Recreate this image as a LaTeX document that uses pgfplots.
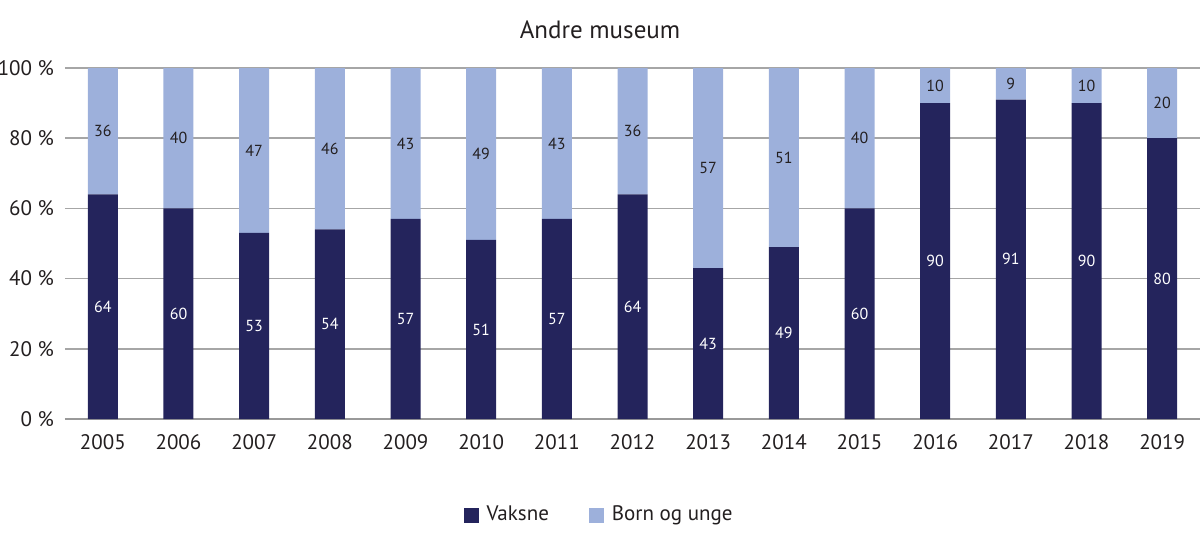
\documentclass[border=0pt]{standalone}
\usepackage{fontspec}
\setmainfont{PT Sans}
\usepackage{pgfplots}
\pgfplotsset{compat=1.18}
\usepackage{pgfplotstable}
\definecolor{dark}{HTML}{24245C}
\definecolor{light}{HTML}{9DB0DB}
\definecolor{txt}{HTML}{231F20}
\pgfplotstableread{
x dark light dc lc
0 64 36 32 82
1 60 40 30 80
2 53 47 26.5 76.5
3 54 46 27 77
4 57 43 28.5 78.5
5 51 49 25.5 75.5
6 57 43 28.5 78.5
7 64 36 32 82
8 43 57 21.5 71.5
9 49 51 24.5 74.5
10 60 40 30 80
11 90 10 45 95
12 91 9 45.5 95.5
13 90 10 45 95
14 80 20 40 90
}\data
\begin{document}
\begin{tikzpicture}
\pgfplotsset{common/.style={
  scale only axis, width=567.5pt, height=175.5pt,
  xmin=-0.5, xmax=14.5, ymin=0, ymax=100,
}}
\begin{axis}[common,
  ybar stacked, bar width=15pt,
  axis x line*=bottom, axis y line*=left,
  x axis line style={draw=gray!80, line width=0.8pt},
  y axis line style={draw=none},
  ymajorgrids, grid style={gray!70, line width=0.8pt},
  ytick={0,20,40,60,80,100},
  yticklabels={0 \%,20 \%,40 \%,60 \%,80 \%,100 \%},
  xtick=data,
  xticklabels={2005,2006,2007,2008,2009,2010,2011,2012,2013,2014,2015,2016,2017,2018,2019},
  major tick length=0pt,
  tick label style={font=\fontsize{10.5pt}{12pt}\selectfont, text=txt},
  xticklabel style={yshift=-4pt},
  yticklabel style={xshift=-2pt},
  title={Andre museum},
  title style={at={(0.4714,1)}, anchor=center, yshift=13pt, font=\fontsize{12.5pt}{14pt}\selectfont, text=txt},
  legend columns=2,
  legend style={at={(0.4714,-0.2735)}, anchor=center, draw=none, font=\fontsize{10.5pt}{12pt}\selectfont, text=txt,
    /tikz/every even column/.append style={column sep=18pt}},
  legend image code/.code={\fill[#1] (0pt,-3.75pt) rectangle (7.5pt,3.75pt);},
  legend style={/tikz/every odd column/.append style={xshift=-2pt}},
  legend cell align=left,
]
\addplot[fill=dark, draw=none] table[x=x, y=dark] {\data};
\addplot[fill=light, draw=none] table[x=x, y=light] {\data};
\legend{\hspace{2pt}Vaksne, \hspace{2pt}Born og unge}
\end{axis}
\begin{axis}[common, hide axis]
\addplot[draw=none, mark=none, nodes near coords, point meta=explicit symbolic,
  every node near coord/.style={anchor=center, font=\fontsize{8pt}{9pt}\selectfont, text=white}]
  table[x=x, y=dc, meta=dark] {\data};
\addplot[draw=none, mark=none, nodes near coords, point meta=explicit symbolic,
  every node near coord/.style={anchor=center, font=\fontsize{8pt}{9pt}\selectfont, text=txt}]
  table[x=x, y=lc, meta=light] {\data};
\end{axis}
\pgfresetboundingbox
\path (-32.5pt,-61.5pt) rectangle (567.5pt,209.5pt);
\end{tikzpicture}
\end{document}
